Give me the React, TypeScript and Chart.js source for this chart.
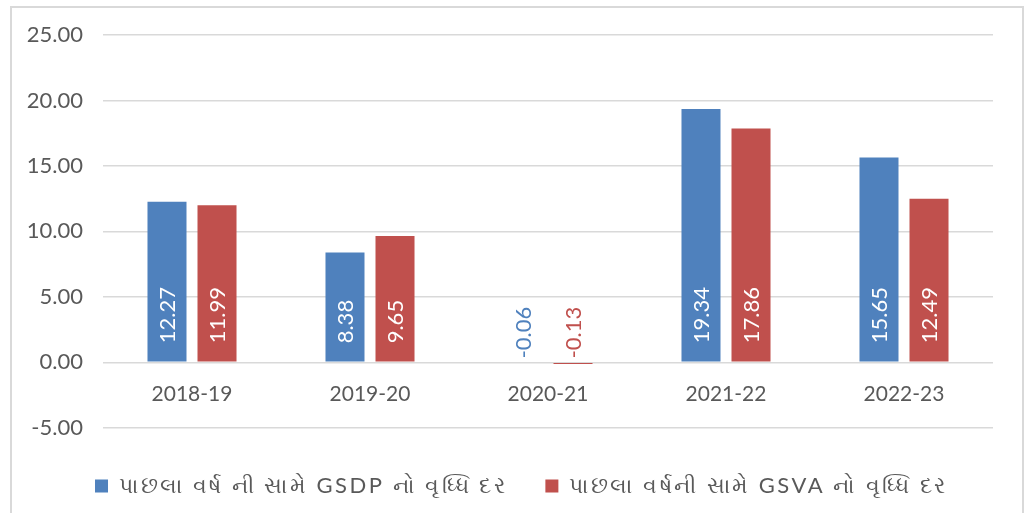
import React, { useEffect, useRef } from "react";
import { Chart, registerables } from "chart.js";

Chart.register(...registerables);

const categories = ["2018-19", "2019-20", "2020-21", "2021-22", "2022-23"];
const gsdpGrowth = [12.27, 8.38, -0.06, 19.34, 15.65];
const gsvaGrowth = [11.99, 9.65, -0.13, 17.86, 12.49];
const seriesLabels = [
  "પાછલા વર્ષ ની સામે GSDP નો વૃધ્ધિ દર",
  "પાછલા વર્ષની સામે GSVA નો વૃધ્ધિ દર",
];
const seriesColors = ["#4F81BD", "#C0504D"];
const yMin = -5;
const yMax = 25;
const yStep = 5;

const FONT = "Lato, 'Noto Sans', 'DejaVu Sans', sans-serif";
const TEXT = "#595959";
const LEGEND_SPACING = "2.5px";

const labelPlugin = {
  id: "barValueLabels",
  afterDatasetsDraw(chart: any) {
    const ctx = chart.ctx;
    const zeroY = chart.scales.y.getPixelForValue(0);
    chart.data.datasets.forEach((ds: any, i: number) => {
      const meta = chart.getDatasetMeta(i);
      meta.data.forEach((el: any, j: number) => {
        const v = ds.data[j] as number;
        const text = v.toFixed(2);
        ctx.save();
        ctx.font = `22px ${FONT}`;
        ctx.textBaseline = "middle";
        ctx.textAlign = "left";
        let startY: number;
        if (v >= 0) {
          ctx.fillStyle = "#FFFFFF";
          startY = zeroY - 19;
        } else {
          ctx.fillStyle = seriesColors[i];
          startY = zeroY - 4;
        }
        ctx.translate(el.x, startY);
        ctx.rotate(-Math.PI / 2);
        ctx.fillText(text, 0, 1);
        ctx.restore();
      });
    });
  },
  afterDraw(chart: any) {
    // category labels placed just below the zero line, positioned by the x scale
    const ctx = chart.ctx;
    const zeroY = chart.scales.y.getPixelForValue(0);
    const xs = chart.scales.x;
    ctx.save();
    ctx.font = `21px ${FONT}`;
    ctx.fillStyle = TEXT;
    ctx.textAlign = "center";
    ctx.textBaseline = "middle";
    (chart.data.labels as string[]).forEach((lab, i) => {
      ctx.fillText(lab, xs.getPixelForValue(i), zeroY + 32);
    });
    ctx.restore();
  },
};

export default function App() {
  const ref = useRef<HTMLCanvasElement | null>(null);

  useEffect(() => {
    if (!ref.current) return;
    const chart = new Chart(ref.current, {
      type: "bar",
      data: {
        labels: categories,
        datasets: [
          {
            label: seriesLabels[0],
            data: gsdpGrowth,
            backgroundColor: seriesColors[0],
            barPercentage: 0.78,
            categoryPercentage: 0.562,
          },
          {
            label: seriesLabels[1],
            data: gsvaGrowth,
            backgroundColor: seriesColors[1],
            barPercentage: 0.78,
            categoryPercentage: 0.562,
          },
        ],
      },
      options: {
        responsive: false,
        animation: false,
        devicePixelRatio: 1,
        layout: { padding: { top: 27, right: 29, left: 0, bottom: 0 } },
        plugins: {
          tooltip: { enabled: false },
          title: { display: false },
          legend: {
            position: "bottom",
            title: {
              display: true,
              text: " ",
              font: { size: 1 },
              padding: { top: 8, bottom: 0 },
            },
            labels: {
              boxWidth: 13,
              boxHeight: 13,
              padding: 38,
              color: TEXT,
              font: { family: FONT, size: 22 },
            },
          },
        },
        scales: {
          x: {
            display: false,
          },
          y: {
            min: yMin,
            max: yMax,
            afterFit: (scale: any) => {
              scale.width = 91;
              scale.paddingTop = 0;
              scale.paddingBottom = 0;
            },
            grid: { color: "#d9d9d9", lineWidth: 1.5, drawTicks: false },
            border: { display: false },
            ticks: {
              stepSize: yStep,
              color: TEXT,
              padding: 20,
              font: { family: FONT, size: 22 },
              callback: (v: any) => Number(v).toFixed(2),
            },
          },
        },
      },
      plugins: [labelPlugin],
    });

    const leg: any = (chart as any).legend;
    if (leg) {
      const origFit = leg.fit.bind(leg);
      const origDraw = leg.draw.bind(leg);
      leg.fit = function () {
        const c = this.ctx;
        const prev = c.letterSpacing;
        c.letterSpacing = LEGEND_SPACING;
        origFit();
        c.letterSpacing = prev ?? "0px";
      };
      leg.draw = function () {
        const c = this.ctx;
        const prev = c.letterSpacing;
        c.save();
        c.translate(19, 0);
        c.letterSpacing = LEGEND_SPACING;
        origDraw();
        c.restore();
        c.letterSpacing = prev ?? "0px";
      };
      chart.update();
    }

    return () => chart.destroy();
  }, []);

  return (
    <div
      style={{
        position: "absolute",
        left: 10,
        top: 6,
        width: 1010,
        height: 510,
        border: "2px solid #d9d9d9",
        background: "#fff",
      }}
    >
      <canvas ref={ref} width={1010} height={499} style={{ display: "block" }} />
    </div>
  );
}
